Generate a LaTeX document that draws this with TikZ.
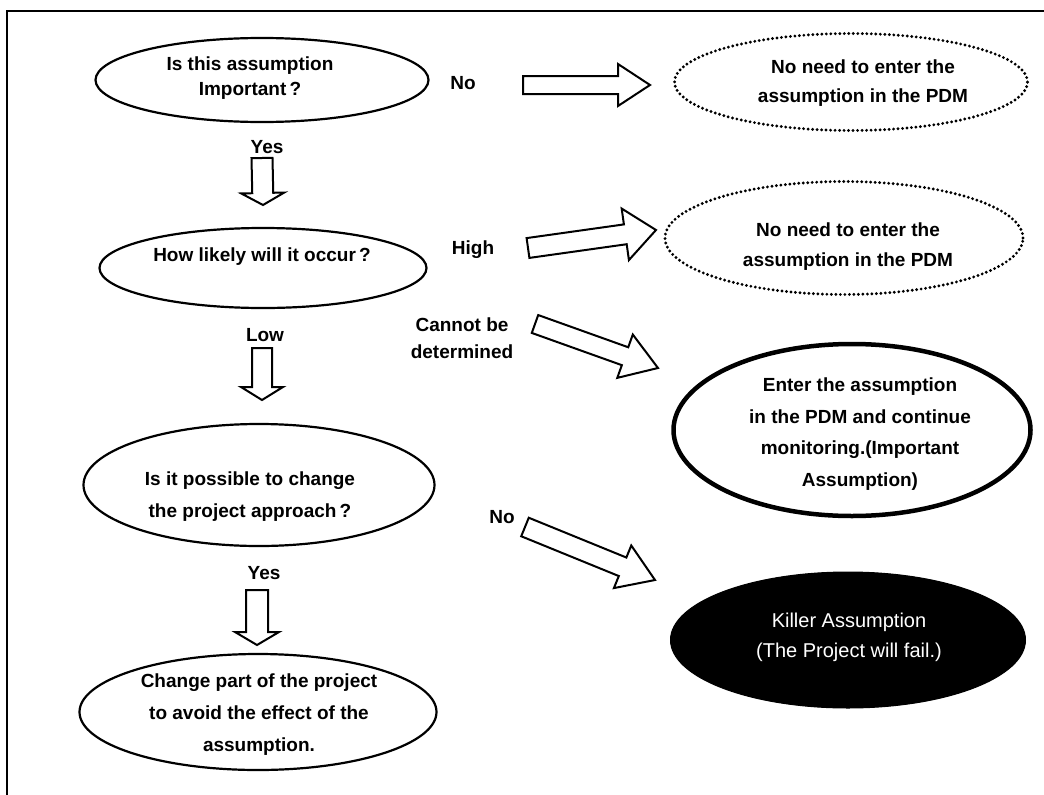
\documentclass[tikz,border=0pt]{standalone}
\usepackage{fontspec}
\setmainfont{Liberation Sans}
\usetikzlibrary{calc,shapes.geometric}

\tikzset{
  plainoval/.style={draw, ellipse, line width=2.2pt, inner sep=0pt},
  dotoval/.style={draw, ellipse, line width=3.2pt, line cap=round, dash pattern=on 0pt off 4.5pt, inner sep=0pt},
  heavyoval/.style={draw, ellipse, line width=4.5pt, inner sep=0pt},
  blackoval/.style={draw, ellipse, fill=black, line width=1pt, inner sep=0pt},
  caption/.style={font=\fontsize{19}{32}\selectfont\bfseries, align=center, inner sep=0pt},
  tag/.style={font=\fontsize{19}{27}\selectfont\bfseries, align=center, inner sep=0pt},
  blockarrow/.style={draw, line width=2pt, line join=miter, fill=white},
  frameline/.style={line width=2.5pt},
}

% hollow block arrow from coordinate #1 to coordinate #2
% #3 shaft half-width, #4 head half-width, #5 head length
\newcommand\hollowarrow[5]{%
  \draw[blockarrow] let \p1=($(#2)-(#1)$), \n1={atan2(\y1,\x1)}, \n2={veclen(\x1,\y1)} in
    ($(#1)+(\n1-90:#3)$)
    -- ($(#1)+(\n1-90:#3)+(\n1:\n2-#5)$)
    -- ($(#1)+(\n1-90:#4)+(\n1:\n2-#5)$)
    -- (#2)
    -- ($(#1)+(\n1+90:#4)+(\n1:\n2-#5)$)
    -- ($(#1)+(\n1+90:#3)+(\n1:\n2-#5)$)
    -- ($(#1)+(\n1+90:#3)$) -- cycle;}

\begin{document}
\begin{tikzpicture}[x=1pt, y=-1pt]
\useasboundingbox (0,0) rectangle (1044,795);

% frame
\draw[frameline] (1044,11) -- (7,11) -- (7,795);

% left column: questions
\node[plainoval, minimum width=333pt, minimum height=84pt] (q1) at (262,80) {};
\node[caption, font=\fontsize{19}{25}\selectfont\bfseries] (q1t) at (250,78) {Is this assumption\\Important\,?};

\node[plainoval, minimum width=327pt, minimum height=80pt] (q2) at (263,268) {};
\node[caption] (q2t) at (262,257) {How likely will it occur\,?};

\node[plainoval, minimum width=351pt, minimum height=122pt] (q3) at (259,485) {};
\node[caption] (q3t) at (250,497) {Is it possible to change\\the project approach\,?};

\node[plainoval, minimum width=357pt, minimum height=116pt] (q4) at (258,712) {};
\node[caption] (q4t) at (259,715) {Change part of the project\\to avoid the effect of the\\assumption.};

% right column: outcomes
\node[dotoval, minimum width=353pt, minimum height=97pt] (n1) at (851,82) {};
\node[caption, font=\fontsize{19}{29}\selectfont\bfseries] (n1t) at (863,83) {No need to enter the\\assumption in the PDM};

\node[dotoval, minimum width=358pt, minimum height=113pt] (n2) at (844,238) {};
\node[caption, font=\fontsize{19}{30}\selectfont\bfseries] (n2t) at (848,247) {No need to enter the\\assumption in the PDM};

\node[heavyoval, minimum width=357pt, minimum height=172pt] (mon) at (852,430) {};
\node[caption, font=\fontsize{19}{31.7}\selectfont\bfseries] (mont) at (860,434) {Enter the assumption\\in the PDM and continue\\monitoring.(Important\\Assumption)};

\node[blackoval, minimum width=355pt, minimum height=136pt] (killer) at (848,640) {};
\node[caption, font=\fontsize{20}{30}\selectfont, text=white] (killt) at (849,637) {Killer Assumption\\(The Project will fail.)};

% branch labels
\node[tag] (no1) at (463,83) {No};
\node[tag] (yes1) at (267,147) {Yes};
\node[tag] (high) at (473,250) {High};
\node[tag] (low) at (265,335) {Low};
\node[tag] (cbd) at (462,338) {Cannot be\\determined};
\node[tag] (no2) at (502,517) {No};
\node[tag] (yes2) at (264,573) {Yes};

% arrow end points
\coordinate (r1s) at (523,85);  \coordinate (r1e) at (650,85);
\coordinate (r2s) at (528,248); \coordinate (r2e) at (656,230);
\coordinate (r3s) at (535,324); \coordinate (r3e) at (658,368);
\coordinate (r4s) at (525,527); \coordinate (r4e) at (655,580);
\coordinate (d1s) at (262,158); \coordinate (d1e) at (263,205);
\coordinate (d2s) at (262,348); \coordinate (d2e) at (262,400);
\coordinate (d3s) at (257,590); \coordinate (d3e) at (257,645);

% block arrows
\hollowarrow{r1s}{r1e}{9pt}{21pt}{32pt}
\hollowarrow{r2s}{r2e}{10pt}{26pt}{31pt}
\hollowarrow{r3s}{r3e}{9.5pt}{23pt}{35pt}
\hollowarrow{r4s}{r4e}{10pt}{23pt}{35pt}
\hollowarrow{d1s}{d1e}{10.5pt}{21.5pt}{12pt}
\hollowarrow{d2s}{d2e}{10pt}{21pt}{13pt}
\hollowarrow{d3s}{d3e}{11pt}{22pt}{13pt}
\end{tikzpicture}
\end{document}
